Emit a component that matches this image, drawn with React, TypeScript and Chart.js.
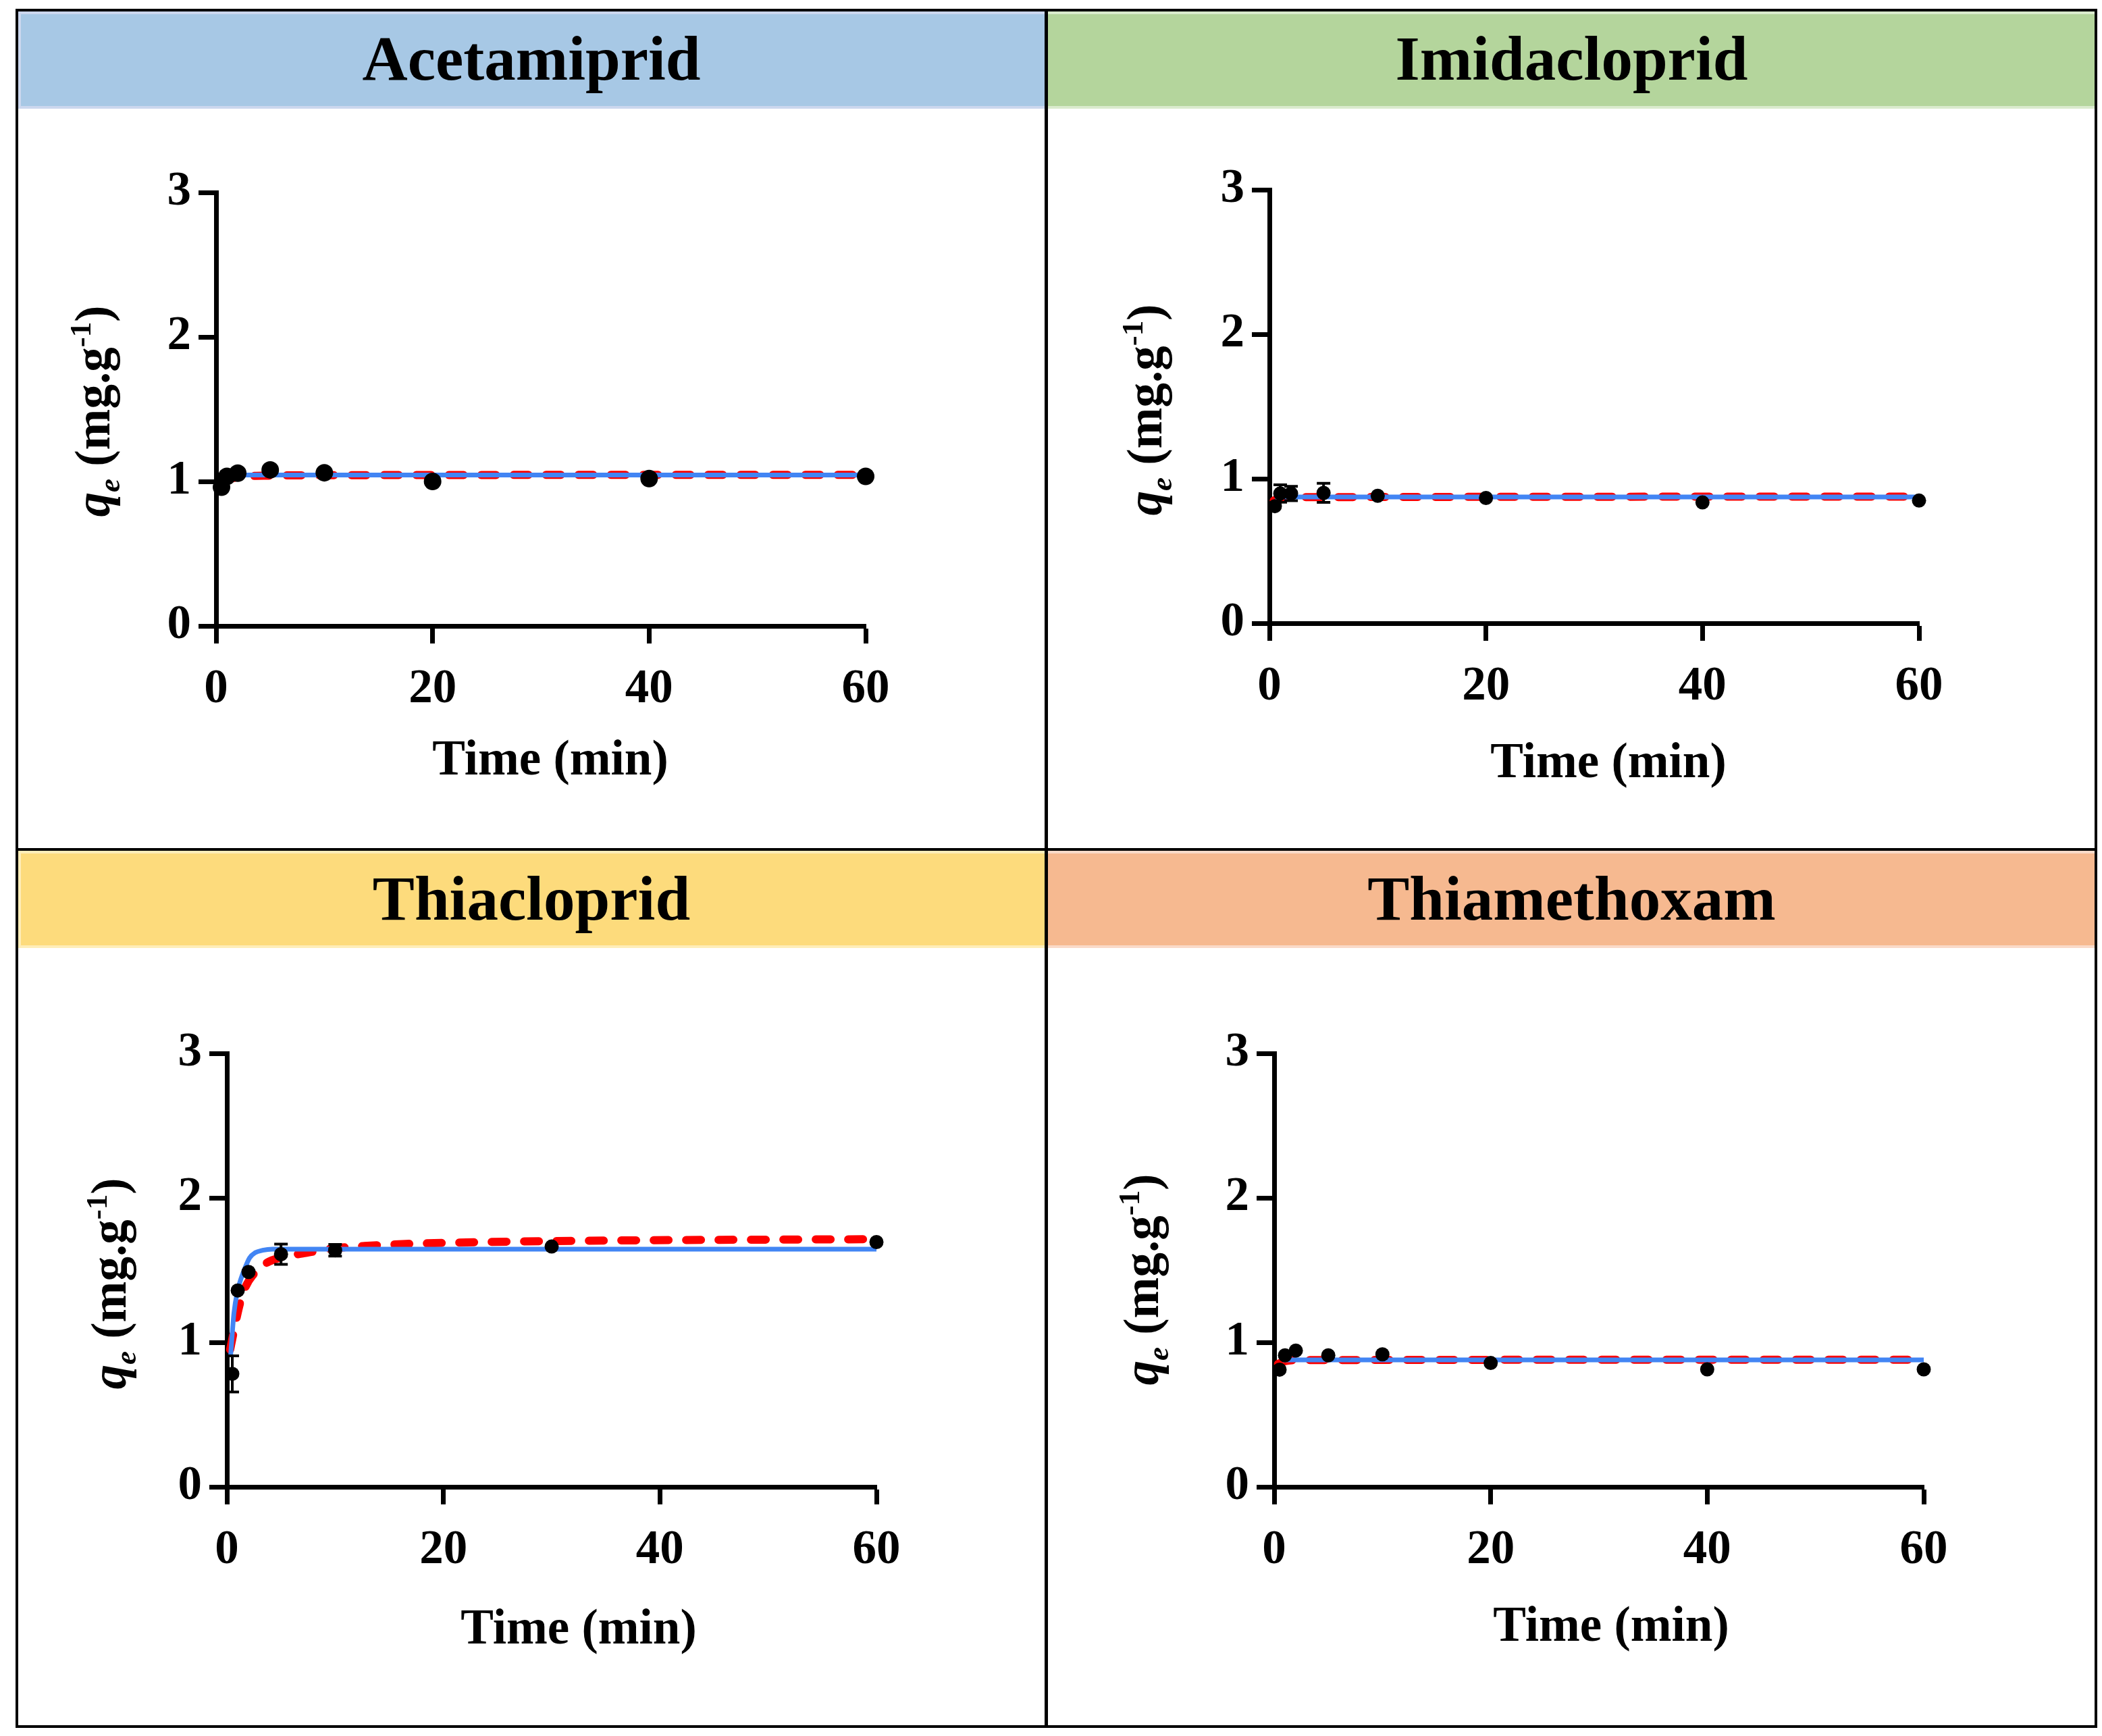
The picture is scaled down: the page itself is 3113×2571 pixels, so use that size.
import React, { useEffect, useRef } from 'react';
import { Chart, registerables } from 'chart.js';

Chart.register(...registerables);

const FAM = '"Liberation Serif", "Times New Roman", serif';

// ---------- Data ----------
// Acetamiprid
const acetTime = [0.5, 1, 2, 5, 10, 20, 40, 60];
const acetQe = [0.96, 1.035, 1.057, 1.08, 1.06, 1.0, 1.02, 1.035];
const acetErr = [0, 0, 0, 0, 0, 0, 0, 0];
const acetPfoTime = [0.8, 60];
const acetPfoQe = [1.044, 1.044];
const acetPsoTime = [0.6, 2, 5, 10, 60];
const acetPsoQe = [1.0, 1.03, 1.04, 1.043, 1.046];

// Imidacloprid
const imiTime = [0.5, 1, 2, 5, 10, 20, 40, 60];
const imiQe = [0.81, 0.898, 0.898, 0.902, 0.882, 0.867, 0.836, 0.849];
const imiErr = [0, 0.06, 0.05, 0.066, 0, 0, 0, 0];
const imiPfoTime = [0.5, 60];
const imiPfoQe = [0.874, 0.874];
const imiPsoTime = [0.4, 1, 2, 60];
const imiPsoQe = [0.85, 0.865, 0.872, 0.876];

// Thiacloprid
const thiaTime = [0.5, 1, 2, 5, 10, 30, 60];
const thiaQe = [0.782, 1.359, 1.487, 1.61, 1.637, 1.663, 1.694];
const thiaErr = [0.125, 0, 0, 0.07, 0.04, 0, 0];
const thiaPfoTime = [0.35, 0.65, 1, 1.3, 1.7, 2.1, 2.6, 3.3, 4.2, 6, 60];
const thiaPfoQe = [0.91, 1.2, 1.36, 1.44, 1.52, 1.585, 1.62, 1.637, 1.645, 1.645, 1.645];
const thiaPsoTime = [0.3, 1.2, 1.75, 2.4, 3.5, 5.25, 7, 9.6, 12.7, 16.2, 21, 27, 36, 44.7, 60];
const thiaPsoQe = [0.95, 1.267, 1.388, 1.465, 1.542, 1.593, 1.615, 1.648, 1.667, 1.68, 1.69, 1.698, 1.705, 1.709, 1.714];

// Thiamethoxam
const thmTime = [0.5, 1, 2, 5, 10, 20, 40, 60];
const thmQe = [0.811, 0.91, 0.943, 0.91, 0.917, 0.857, 0.813, 0.813];
const thmErr = [0, 0, 0, 0, 0, 0, 0, 0];
const thmPfoTime = [0.8, 60];
const thmPfoQe = [0.879, 0.879];
const thmPsoTime = [0.35, 1, 2, 60];
const thmPsoQe = [0.85, 0.87, 0.877, 0.88];

// Axis ticks
const xTicks = [0, 20, 40, 60];
const yTicks = [0, 1, 2, 3];
const xTitleText = 'Time (min)';

const titles = ['Acetamiprid', 'Imidacloprid', 'Thiacloprid', 'Thiamethoxam'];

// ---------- Layout / style ----------
type PanelCfg = {
  title: string;
  time: number[]; qe: number[]; err: number[];
  pfoT: number[]; pfoQ: number[]; psoT: number[]; psoQ: number[];
  box: { x: number; y: number; w: number; h: number };
  area: { l: number; r: number; t: number; b: number };
  radius: number;
  yTitle: { base: number; shift: number };
  xTitle: { dx: number; dy: number };
};

const panels: PanelCfg[] = [
  {
    title: titles[0], time: acetTime, qe: acetQe, err: acetErr,
    pfoT: acetPfoTime, pfoQ: acetPfoQe, psoT: acetPsoTime, psoQ: acetPsoQe,
    box: { x: 27, y: 161, w: 1520, h: 1095 },
    area: { l: 320, r: 1282, t: 285, b: 927 },
    radius: 13,
    yTitle: { base: 158, shift: 3 },
    xTitle: { dx: 14, dy: 220 },
  },
  {
    title: titles[1], time: imiTime, qe: imiQe, err: imiErr,
    pfoT: imiPfoTime, pfoQ: imiPfoQe, psoT: imiPsoTime, psoQ: imiPsoQe,
    box: { x: 1552, y: 161, w: 1551, h: 1095 },
    area: { l: 1880, r: 2842, t: 281, b: 923 },
    radius: 10.5,
    yTitle: { base: 160, shift: 5 },
    xTitle: { dx: 21, dy: 228 },
  },
  {
    title: titles[2], time: thiaTime, qe: thiaQe, err: thiaErr,
    pfoT: thiaPfoTime, pfoQ: thiaPfoQe, psoT: thiaPsoTime, psoQ: thiaPsoQe,
    box: { x: 27, y: 1404, w: 1520, h: 1150 },
    area: { l: 336, r: 1298, t: 1560, b: 2202 },
    radius: 10.5,
    yTitle: { base: 150, shift: 20 },
    xTitle: { dx: 40, dy: 232 },
  },
  {
    title: titles[3], time: thmTime, qe: thmQe, err: thmErr,
    pfoT: thmPfoTime, pfoQ: thmPfoQe, psoT: thmPsoTime, psoQ: thmPsoQe,
    box: { x: 1552, y: 1404, w: 1551, h: 1150 },
    area: { l: 1887, r: 2849, t: 1560, b: 2202 },
    radius: 10.5,
    yTitle: { base: 172, shift: 14 },
    xTitle: { dx: 18, dy: 228 },
  },
];

const headerColors = [
  { main: '#A7C8E5', light: '#CBD7EE' },
  { main: '#B4D59C', light: '#DAEBCD' },
  { main: '#FDDB7C', light: '#FEEDB8' },
  { main: '#F6B990', light: '#FADAC8' },
];

const TICK_FS = 71;
const TITLE_FS = 73;
const Y_AXIS_W = 130;
const X_AXIS_H = 150;

// ---------- Plugins ----------
const yTitlePlugin = {
  id: 'yTitle',
  afterDraw(chart: any, _args: any, opts: any) {
    const { ctx, chartArea } = chart;
    const bx = chartArea.left - opts.base;
    const cy = (chartArea.top + chartArea.bottom) / 2 + opts.shift;
    const fs = TITLE_FS;
    const small = Math.round(fs * 0.62);
    const parts = [
      { t: 'q', f: `italic bold ${fs}px ${FAM}`, dy: 0 },
      { t: 'e', f: `italic bold ${small}px ${FAM}`, dy: fs * 0.2 },
      { t: ' (mg.g', f: `bold ${fs}px ${FAM}`, dy: 0 },
      { t: '-1', f: `bold ${small}px ${FAM}`, dy: -fs * 0.38 },
      { t: ')', f: `bold ${fs}px ${FAM}`, dy: 0 },
    ];
    ctx.save();
    ctx.translate(bx, cy);
    ctx.rotate(-Math.PI / 2);
    ctx.fillStyle = '#000';
    ctx.textBaseline = 'alphabetic';
    ctx.textAlign = 'left';
    let total = 0;
    const widths = parts.map((p) => {
      ctx.font = p.f;
      const w = ctx.measureText(p.t).width;
      total += w;
      return w;
    });
    let x = -total / 2;
    parts.forEach((p, i) => {
      ctx.font = p.f;
      ctx.fillText(p.t, x, p.dy);
      x += widths[i];
    });
    ctx.restore();
  },
};

const xTitlePlugin = {
  id: 'xTitle',
  afterDraw(chart: any, _args: any, opts: any) {
    const { ctx, chartArea } = chart;
    ctx.save();
    ctx.font = `bold ${TITLE_FS}px ${FAM}`;
    ctx.fillStyle = '#000';
    ctx.textAlign = 'center';
    ctx.textBaseline = 'alphabetic';
    ctx.fillText(opts.text, (chartArea.left + chartArea.right) / 2 + opts.dx, chartArea.bottom + opts.dy);
    ctx.restore();
  },
};

const errorBarPlugin = {
  id: 'errorBars',
  afterDatasetsDraw(chart: any, _args: any, opts: any) {
    const errs: number[] = opts.errors || [];
    const meta = chart.getDatasetMeta(0);
    const ys = chart.scales.y;
    const ds = chart.data.datasets[0].data as { x: number; y: number }[];
    const ctx = chart.ctx;
    ctx.save();
    ctx.strokeStyle = '#000';
    ctx.lineWidth = 4;
    meta.data.forEach((el: any, i: number) => {
      const e = errs[i];
      if (!e) return;
      const v = ds[i].y;
      const y1 = ys.getPixelForValue(v + e);
      const y2 = ys.getPixelForValue(v - e);
      const x = el.x;
      ctx.beginPath();
      ctx.moveTo(x, y1); ctx.lineTo(x, y2);
      ctx.moveTo(x - 10, y1); ctx.lineTo(x + 10, y1);
      ctx.moveTo(x - 10, y2); ctx.lineTo(x + 10, y2);
      ctx.stroke();
    });
    ctx.restore();
  },
};

// ---------- Components ----------
function Panel({ cfg }: { cfg: PanelCfg }) {
  const ref = useRef<HTMLCanvasElement | null>(null);
  useEffect(() => {
    if (!ref.current) return;
    const { box, area } = cfg;
    const padLeft = area.l - box.x - Y_AXIS_W;
    const padTop = area.t - box.y;
    const padRight = box.x + box.w - area.r;
    const padBottom = box.y + box.h - area.b - X_AXIS_H;
    const tickFont = { family: FAM, size: TICK_FS, weight: 'bold' as const };
    const chart = new Chart(ref.current, {
      type: 'scatter',
      data: {
        datasets: [
          {
            label: 'Experimental',
            data: cfg.time.map((t, i) => ({ x: t, y: cfg.qe[i] })),
            pointRadius: cfg.radius,
            pointBackgroundColor: '#000',
            pointBorderWidth: 0,
            showLine: false,
            order: 0,
            clip: false as any,
          },
          {
            label: 'Pseudo-first-order',
            data: cfg.pfoT.map((t, i) => ({ x: t, y: cfg.pfoQ[i] })),
            showLine: true,
            borderColor: '#4285F4',
            backgroundColor: '#4285F4',
            borderWidth: 7,
            pointRadius: 0,
            order: 1,
            clip: false as any,
            cubicInterpolationMode: 'monotone',
          } as any,
          {
            label: 'Pseudo-second-order',
            data: cfg.psoT.map((t, i) => ({ x: t, y: cfg.psoQ[i] })),
            showLine: true,
            borderColor: '#FF0000',
            backgroundColor: '#FF0000',
            borderWidth: 12,
            borderDash: [22, 26],
            borderCapStyle: 'round',
            pointRadius: 0,
            order: 2,
            clip: false as any,
            cubicInterpolationMode: 'monotone',
          } as any,
        ],
      },
      options: {
        responsive: false,
        animation: false,
        devicePixelRatio: 1,
        events: [],
        layout: { padding: { left: padLeft, top: padTop, right: padRight, bottom: padBottom } },
        plugins: {
          legend: { display: false },
          tooltip: { enabled: false },
          yTitle: { base: cfg.yTitle.base, shift: cfg.yTitle.shift },
          xTitle: { text: xTitleText, dx: cfg.xTitle.dx, dy: cfg.xTitle.dy },
          errorBars: { errors: cfg.err },
        } as any,
        scales: {
          x: {
            type: 'linear',
            min: xTicks[0],
            max: xTicks[xTicks.length - 1],
            afterBuildTicks: (s: any) => { s.ticks = xTicks.map((v) => ({ value: v })); },
            ticks: { font: tickFont, color: '#000', padding: 26, maxRotation: 0 },
            grid: { drawOnChartArea: false, drawTicks: true, tickLength: 26, tickWidth: 7, tickColor: '#000' },
            border: { display: true, color: '#000', width: 7 },
            afterFit: (s: any) => { s.height = X_AXIS_H; },
          },
          y: {
            type: 'linear',
            min: yTicks[0],
            max: yTicks[yTicks.length - 1],
            afterBuildTicks: (s: any) => { s.ticks = yTicks.map((v) => ({ value: v })); },
            ticks: { font: tickFont, color: '#000', padding: 11 },
            grid: { drawOnChartArea: false, drawTicks: true, tickLength: 26, tickWidth: 7, tickColor: '#000' },
            border: { display: true, color: '#000', width: 7 },
            afterFit: (s: any) => { s.width = Y_AXIS_W; },
          },
        } as any,
      },
      plugins: [yTitlePlugin, xTitlePlugin, errorBarPlugin],
    });
    return () => chart.destroy();
  }, [cfg]);
  const { box } = cfg;
  return (
    <canvas
      ref={ref}
      width={box.w}
      height={box.h}
      style={{ position: 'absolute', left: box.x, top: box.y, width: box.w, height: box.h }}
    />
  );
}

function Header({ idx }: { idx: number }) {
  const left = idx % 2 === 0;
  const top = idx < 2;
  const x = left ? 27 : 1552;
  const w = left ? 1520 : 1551;
  const y = top ? 17 : 1260;
  const h = 144;
  const c = headerColors[idx];
  const baseline = top ? 118 : 1362;
  const fs = 93;
  return (
    <>
      <div
        style={{
          position: 'absolute', left: x, top: y, width: w, height: h, boxSizing: 'border-box',
          background: c.main,
          borderTop: `4px solid ${c.light}`, borderBottom: `4px solid ${c.light}`,
          borderLeft: left ? `4px solid ${c.light}` : 'none',
        }}
      />
      <div
        style={{
          position: 'absolute', left: x, width: w, top: baseline - Math.round(fs * 0.8375),
          fontFamily: FAM, fontWeight: 'bold', fontSize: fs, lineHeight: `${fs}px`,
          textAlign: 'center', color: '#000', whiteSpace: 'nowrap',
        }}
      >
        {titles[idx]}
      </div>
    </>
  );
}

export default function App() {
  return (
    <div style={{ position: 'absolute', left: 0, top: 0, width: 3113, height: 2571, background: '#fff', overflow: 'hidden' }}>
      {[0, 1, 2, 3].map((i) => <Header key={`h${i}`} idx={i} />)}
      {panels.map((p, i) => <Panel key={`p${i}`} cfg={p} />)}
      <div style={{ position: 'absolute', left: 23, top: 13, width: 3083, height: 2546, border: '4px solid #000', boxSizing: 'border-box' }} />
      <div style={{ position: 'absolute', left: 1547, top: 13, width: 5, height: 2546, background: '#000' }} />
      <div style={{ position: 'absolute', left: 23, top: 1256, width: 3083, height: 4, background: '#000' }} />
    </div>
  );
}
